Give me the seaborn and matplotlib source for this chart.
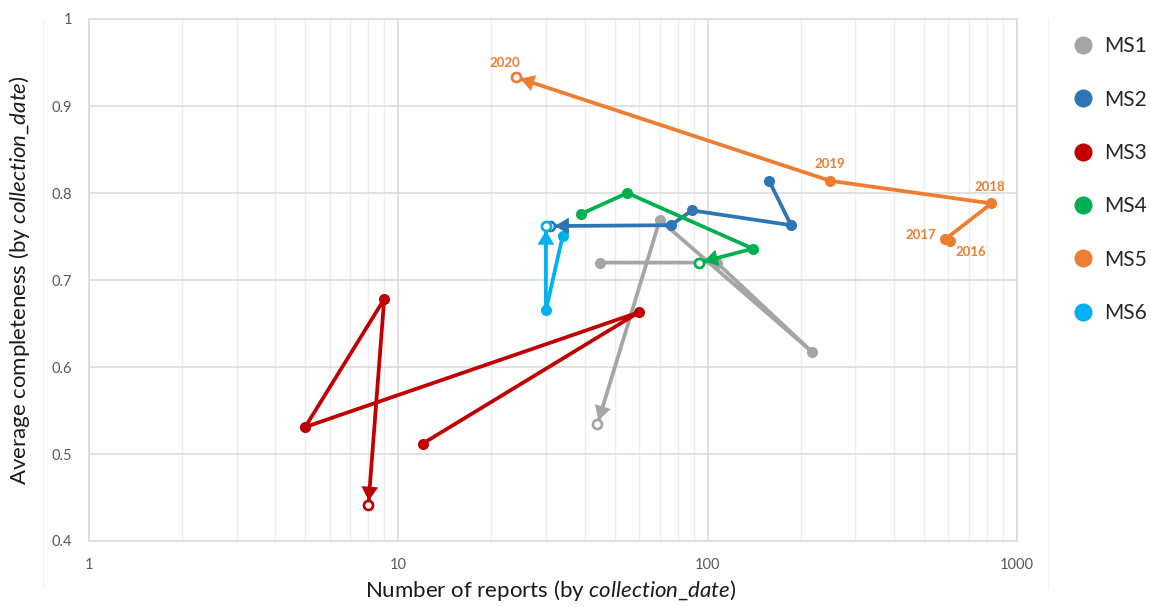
import numpy as np
import pandas as pd
import matplotlib
matplotlib.use("Agg")
import matplotlib.pyplot as plt
from matplotlib.lines import Line2D
from matplotlib.ticker import LogLocator, FuncFormatter, NullFormatter
import seaborn as sns

# ---- data ---------------------------------------------------------------
series_names = ["MS1", "MS2", "MS3", "MS4", "MS5", "MS6"]
series_colors = ["#A5A5A5", "#2E75B6", "#C00000", "#00B050", "#ED7D31", "#00B0F0"]

ms1_years = [2016, 2017, 2018, 2019, 2020]
ms1_reports = [45, 107, 218, 70, 44]
ms1_completeness = [0.720, 0.720, 0.617, 0.769, 0.534]

ms2_years = [2016, 2017, 2018, 2019, 2020]
ms2_reports = [158, 186, 89, 76, 31]
ms2_completeness = [0.814, 0.763, 0.780, 0.763, 0.762]

ms3_years = [2016, 2017, 2018, 2019, 2020]
ms3_reports = [12, 60, 5, 9, 8]
ms3_completeness = [0.512, 0.663, 0.531, 0.678, 0.441]

ms4_years = [2017, 2018, 2019, 2020]
ms4_reports = [39, 55, 140, 94]
ms4_completeness = [0.776, 0.800, 0.736, 0.720]

ms5_years = [2016, 2017, 2018, 2019, 2020]
ms5_reports = [606, 587, 827, 249, 24]
ms5_completeness = [0.745, 0.747, 0.788, 0.814, 0.933]

ms6_years = [2018, 2019, 2020]
ms6_reports = [34, 30, 30]
ms6_completeness = [0.751, 0.665, 0.762]

x_ticks = [1, 10, 100, 1000]
y_ticks = [0.4, 0.5, 0.6, 0.7, 0.8, 0.9, 1.0]

# ---- long-form table -----------------------------------------------------
all_years = [ms1_years, ms2_years, ms3_years, ms4_years, ms5_years, ms6_years]
all_reports = [ms1_reports, ms2_reports, ms3_reports, ms4_reports, ms5_reports, ms6_reports]
all_completeness = [ms1_completeness, ms2_completeness, ms3_completeness,
                    ms4_completeness, ms5_completeness, ms6_completeness]

df = pd.concat(
    [pd.DataFrame({"series": n, "year": yr, "reports": rp, "completeness": cp})
     for n, yr, rp, cp in zip(series_names, all_years, all_reports, all_completeness)],
    ignore_index=True,
)
palette = dict(zip(series_names, series_colors))

# ---- style ---------------------------------------------------------------
sns.set_theme(style="white")
plt.rcParams["font.family"] = ["Lato", "DejaVu Sans"]
plt.rcParams["mathtext.fontset"] = "custom"
plt.rcParams["mathtext.rm"] = "Lato"
plt.rcParams["mathtext.it"] = "Lato:italic"

fig = plt.figure(figsize=(11.51, 6.07), dpi=100)
ax = fig.add_axes([89 / 1151, 1 - 541 / 607, (1017 - 89) / 1151, (541 - 19) / 607])

# trajectories, drawn in year order
sns.lineplot(data=df, x="reports", y="completeness", hue="series", palette=palette,
             sort=False, estimator=None, marker="o", markersize=8,
             markeredgewidth=0, linewidth=2.7, legend=False, ax=ax, zorder=3)

# latest year: arrow head plus hollow marker
for name in series_names:
    sub = df[df["series"] == name].sort_values("year")
    c = palette[name]
    (x0, y0), (x1, y1) = sub[["reports", "completeness"]].values[-2:]
    ax.annotate("", xy=(x1, y1), xytext=(x0, y0),
                arrowprops=dict(arrowstyle="-|>,head_length=0.85,head_width=0.5",
                                color=c, lw=0, shrinkA=0, shrinkB=3.2,
                                mutation_scale=12),
                zorder=4)
    ax.plot([x1], [y1], marker="o", markersize=6.5, markerfacecolor="white",
            markeredgecolor=c, markeredgewidth=1.9, linestyle="none", zorder=5)

# year labels on MS5
ms5 = df[df["series"] == "MS5"].set_index("year")
year_offsets = {2016: (15, -8), 2017: (-18, 3), 2018: (-1, 11.5), 2019: (0, 12), 2020: (-8, 10)}
for yr, (dx, dy) in year_offsets.items():
    ax.annotate(str(yr), xy=(ms5.loc[yr, "reports"], ms5.loc[yr, "completeness"]),
                xytext=(dx, dy), textcoords="offset points", ha="center", va="center",
                fontsize=9.5, fontweight="bold", color="#ED7D31", zorder=6)

# ---- axes ----------------------------------------------------------------
ax.set_xscale("log")
ax.set_xlim(x_ticks[0], x_ticks[-1])
ax.set_ylim(y_ticks[0], y_ticks[-1])
ax.xaxis.set_minor_locator(LogLocator(base=10, subs=np.arange(2, 10), numticks=20))
ax.xaxis.set_minor_formatter(NullFormatter())
ax.set_xticks(x_ticks)
ax.xaxis.set_major_formatter(FuncFormatter(lambda v, _: f"{v:g}"))
ax.set_yticks(y_ticks)
ax.yaxis.set_major_formatter(FuncFormatter(lambda v, _: f"{v:g}"))

ax.grid(which="major", axis="both", color="#D9D9D9", linewidth=1.1, zorder=0)
ax.grid(which="minor", axis="x", color="#EDEDED", linewidth=1.0, zorder=0)
ax.set_axisbelow(True)
for s in ax.spines.values():
    s.set_color("#D9D9D9")
    s.set_linewidth(1.1)

ax.tick_params(axis="both", which="both", length=0, labelsize=10.5, labelcolor="#595959")
ax.tick_params(axis="x", pad=12)
ax.tick_params(axis="y", pad=12)

ax.set_xlabel(r"Number of reports (by $\mathit{collection\_date}$)", fontsize=16, color="#1A1A1A")
ax.set_ylabel(r"Average completeness (by $\mathit{collection\_date}$)", fontsize=16, color="#1A1A1A")
ax.xaxis.set_label_coords(0.497, -0.071)
ax.yaxis.set_label_coords(-0.061, 0.5)

# ---- legend --------------------------------------------------------------
handles = [Line2D([], [], marker="o", linestyle="none", markersize=13,
                  markerfacecolor=c, markeredgewidth=0) for c in series_colors]
fig.legend(handles, series_names, loc="upper left", bbox_to_anchor=(1062 / 1151, 1 - 26 / 607),
           frameon=False, fontsize=15, labelspacing=1.6, handlelength=1.0,
           handletextpad=0.5, borderpad=0, labelcolor="#262626")

# panel separators
for xf in (43 / 1151, 1048 / 1151):
    fig.add_artist(Line2D([xf, xf], [0.03, 0.97], transform=fig.transFigure,
                          color="#F3F3F3", linewidth=1))

fig.savefig("out.png", dpi=100)
